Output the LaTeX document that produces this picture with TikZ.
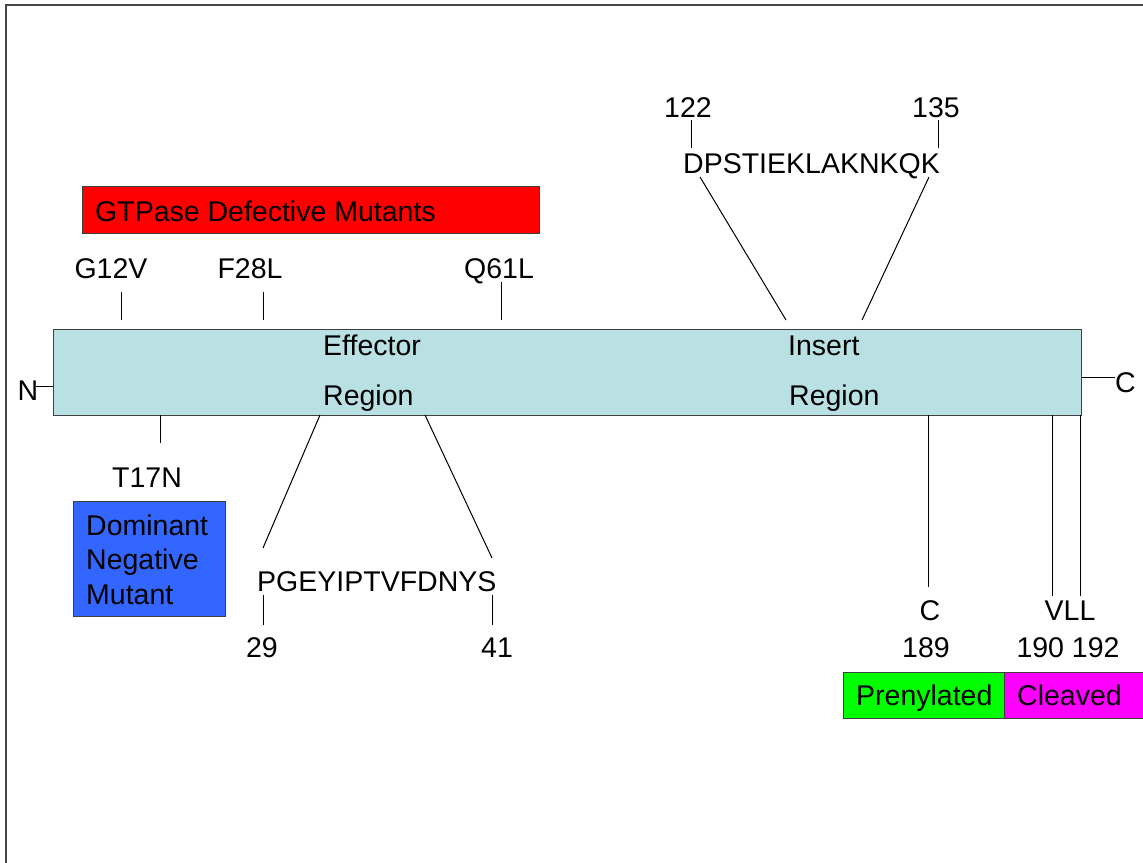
\documentclass[tikz,border=0pt]{standalone}
\usepackage{fontspec}
\setmainfont{Liberation Sans}
\definecolor{protein}{RGB}{185,224,227}
\definecolor{gtpred}{RGB}{255,0,0}
\definecolor{dnblue}{RGB}{51,102,255}
\definecolor{prengreen}{RGB}{0,255,0}
\definecolor{clvmag}{RGB}{255,0,255}
\definecolor{framegray}{RGB}{70,70,70}
\begin{document}
\begin{tikzpicture}[x=1pt,y=-1pt,
  lbl/.style={inner sep=0pt, anchor=base, font=\fontsize{28.5}{34}\selectfont},
  lblw/.style={lbl, anchor=base west},
  tick/.style={draw=black, line width=1pt},
  band/.style={draw=black!75, line width=1pt, inner sep=0pt, anchor=north west}
]
\useasboundingbox (0,0) rectangle (1143,862);
% frame
\coordinate (fbl) at (6,880);
\coordinate (ftl) at (6,5);
\coordinate (ftr) at (1160,5);
\draw[line width=2pt, framegray] (fbl) -- (ftl) -- (ftr);

% protein bar
\node[band, fill=protein, minimum width=1028pt, minimum height=86pt] (prot) at (53,329) {};
\node[lblw] (eff1) at (323,355) {Effector};
\node[lblw] (eff2) at (323,405) {Region};
\node[lblw] (ins1) at (788,355) {Insert};
\node[lblw] (ins2) at (789,405) {Region};

% termini
\node[lbl] (nterm) at (28,400) {N};
\coordinate (nl) at (36,386);
\draw[tick] (nl) -- (prot.west |- nl);
\node[lblw] (cterm) at (1115,392) {C};
\coordinate (cl) at (1115,377);
\draw[tick] (prot.east |- cl) -- (cl);

% GTPase defective mutants
\node[band, fill=gtpred, minimum width=457pt, minimum height=47pt] (gtp) at (82,186) {};
\node[lblw] (gtptxt) at (95,221) {GTPase Defective Mutants};
\node[lbl] (g12) at (111,278) {G12V};
\node[lbl] (f28) at (250,278) {F28L};
\node[lbl] (q61) at (499,278) {Q61L};
\coordinate (g12a) at (121,292); \coordinate (g12b) at (121,320);
\coordinate (f28a) at (263,292); \coordinate (f28b) at (263,320);
\coordinate (q61a) at (501,282); \coordinate (q61b) at (501,320);
\draw[tick] (g12a) -- (g12b);
\draw[tick] (f28a) -- (f28b);
\draw[tick] (q61a) -- (q61b);

% dominant negative
\coordinate (t17a) at (160,415); \coordinate (t17b) at (160,443);
\draw[tick] (t17a) -- (t17b);
\node[lbl] (t17) at (147,487) {T17N};
\node[band, fill=dnblue, minimum width=152pt, minimum height=115pt] (dn) at (73,501) {};
\node[lblw] (dn1) at (86,535) {Dominant};
\node[lblw] (dn2) at (86,569.5) {Negative};
\node[lblw] (dn3) at (86,604) {Mutant};

% effector region sequence
\coordinate (ea) at (320,415); \coordinate (eb) at (263,548);
\coordinate (ec) at (425,415); \coordinate (ed) at (492,558);
\draw[tick] (ea) -- (eb);
\draw[tick] (ec) -- (ed);
\node[lblw] (effseq) at (257,591) {PGEYIPTVFDNYS};
\coordinate (e29a) at (263,595); \coordinate (e29b) at (263,625);
\coordinate (e41a) at (492,595); \coordinate (e41b) at (492,625);
\draw[tick] (e29a) -- (e29b);
\draw[tick] (e41a) -- (e41b);
\node[lbl] (n29) at (262,657) {29};
\node[lbl] (n41) at (497,657) {41};

% insert region sequence
\node[lbl] (n122) at (688,117) {122};
\node[lbl] (n135) at (936,117) {135};
\coordinate (i122a) at (691,120); \coordinate (i122b) at (691,148);
\coordinate (i135a) at (938,120); \coordinate (i135b) at (938,148);
\draw[tick] (i122a) -- (i122b);
\draw[tick] (i135a) -- (i135b);
\node[lblw] (insseq) at (683,173) {DPSTIEKLAKNKQK};
\coordinate (ia) at (700,177); \coordinate (ib) at (786,320);
\coordinate (ic) at (929,177); \coordinate (id) at (862,320);
\draw[tick] (ia) -- (ib);
\draw[tick] (ic) -- (id);

% C-terminal
\coordinate (c189a) at (928,415); \coordinate (c189b) at (928,587);
\coordinate (v190a) at (1052,415); \coordinate (v190b) at (1052,596);
\coordinate (l192a) at (1080,415); \coordinate (l192b) at (1080,596);
\draw[tick] (c189a) -- (c189b);
\draw[tick] (v190a) -- (v190b);
\draw[tick] (l192a) -- (l192b);
\node[lbl] (cres) at (930,620) {C};
\node[lbl] (vll) at (1070,620) {VLL};
\node[lbl] (n189) at (926,657) {189};
\node[lbl] (n190) at (1068,657) {190 192};
\node[band, fill=prengreen, minimum width=161pt, minimum height=46pt] (pren) at (843,672) {};
\node[band, fill=clvmag, minimum width=176pt, minimum height=46pt] (clv) at (1004,672) {};
\node[lblw] (prentxt) at (856,705) {Prenylated};
\node[lblw] (clvtxt) at (1017,705) {Cleaved};
\end{tikzpicture}
\end{document}
